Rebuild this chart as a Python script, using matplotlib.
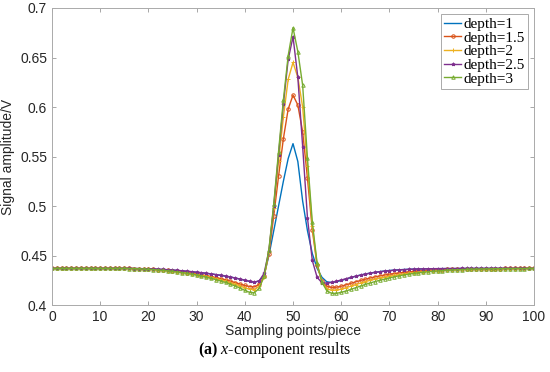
import matplotlib
matplotlib.use("Agg")
import matplotlib.pyplot as plt

plt.rcParams['mathtext.fontset'] = 'custom'
plt.rcParams['mathtext.rm'] = 'Liberation Serif'
plt.rcParams['mathtext.it'] = 'Liberation Serif:italic'
plt.rcParams['mathtext.bf'] = 'Liberation Serif:bold'

# sampling points 0..100
x = list(range(101))

depth1 = [.437, .437, .437, .437, .437, .437, .437, .437, .437, .437,
          .437, .437, .437, .437, .437, .437, .437, .4369, .4368, .4367,
          .4365, .4363, .4361, .4358, .4355, .4352, .4348, .4344, .434, .4335,
          .433, .4325, .432, .4314, .4307, .43, .4292, .4283, .4273, .4262,
          .425, .4238, .4228, .4245, .43, .45, .475, .50, .525, .548,
          .563, .545, .505, .475, .452, .437, .428, .4235, .4228, .4235,
          .4248, .4262, .4277, .4291, .4303, .4314, .4323, .4331, .4338, .4344,
          .4349, .4353, .4356, .4359, .4361, .4363, .4364, .4365, .4366, .4367,
          .4367, .4368, .4368, .4368, .4369, .4369, .4369, .4369, .437, .437,
          .437, .437, .437, .437, .437, .437, .437, .437, .437, .437, .437]

depth15 = [.437, .437, .437, .437, .437, .437, .437, .437, .437, .437,
           .437, .437, .437, .437, .437, .437, .437, .4369, .4367, .4366,
           .4363, .4361, .4357, .4353, .4349, .4345, .434, .4334, .4328, .4321,
           .4314, .4306, .4298, .4288, .4278, .4267, .4255, .4242, .4227, .4212,
           .4198, .4187, .4183, .421, .429, .452, .49, .53, .568, .598,
           .612, .602, .575, .528, .476, .44, .424, .419, .4178, .418,
           .419, .4204, .4219, .4234, .4248, .4261, .4273, .4284, .4294, .4303,
           .4311, .4318, .4324, .433, .4335, .4339, .4343, .4347, .435, .4353,
           .4355, .4357, .4359, .4361, .4362, .4363, .4364, .4365, .4366, .4367,
           .4368, .4368, .4369, .4369, .437, .437, .437, .437, .437, .437, .437]

depth2 = [.437, .437, .437, .437, .437, .437, .437, .437, .437, .437,
          .437, .437, .437, .437, .437, .437, .437, .4369, .4367, .4365,
          .4362, .4359, .4355, .4351, .4347, .4342, .4337, .433, .4323, .4316,
          .4308, .4299, .429, .4279, .4267, .4255, .4241, .4226, .421, .4192,
          .4174, .416, .4156, .419, .428, .454, .498, .545, .59, .628,
          .645, .63, .60, .54, .48, .441, .423, .4165, .415, .4152,
          .416, .4175, .4191, .4207, .4222, .4236, .4249, .4261, .4272, .4282,
          .4291, .4299, .4307, .4314, .432, .4326, .4331, .4336, .434, .4344,
          .4347, .435, .4353, .4355, .4357, .4359, .4361, .4362, .4364, .4365,
          .4366, .4367, .4367, .4368, .4368, .4369, .4369, .437, .437, .437, .437]

depth25 = [.437, .437, .437, .437, .437, .437, .437, .437, .437, .437,
           .437, .437, .437, .437, .437, .437, .437, .4369, .4368, .4367,
           .4366, .4364, .4362, .436, .4357, .4354, .435, .4346, .4342, .4337,
           .4332, .4327, .4321, .4315, .4308, .43, .4292, .4283, .4273, .4262,
           .4251, .424, .4232, .4245, .432, .455, .50, .552, .603, .648,
           .671, .630, .560, .488, .445, .428, .4225, .4222, .4228, .424,
           .4253, .4266, .4279, .4291, .4302, .4312, .4321, .4329, .4336, .4342,
           .4347, .4351, .4355, .4358, .436, .4362, .4364, .4365, .4366, .4367,
           .4368, .4368, .4369, .4369, .4369, .437, .437, .437, .437, .437,
           .437, .437, .437, .437, .437, .437, .437, .437, .437, .437, .437]

depth3 = [.437, .437, .437, .437, .437, .437, .437, .437, .437, .437,
          .437, .437, .437, .437, .437, .437, .4369, .4368, .4366, .4364,
          .4361, .4358, .4354, .435, .4345, .434, .4334, .4327, .432, .4312,
          .4303, .4293, .4282, .427, .4257, .4243, .4228, .4211, .4193, .4172,
          .4148, .4128, .4125, .417, .429, .456, .502, .555, .607, .652,
          .680, .656, .622, .548, .484, .442, .423, .4145, .4118, .4118,
          .4128, .4142, .4158, .4175, .4192, .4208, .4223, .4237, .425, .4262,
          .4274, .4285, .4295, .4304, .4312, .4319, .4325, .4331, .4336, .434,
          .4344, .4348, .4351, .4354, .4356, .4358, .436, .4362, .4363, .4364,
          .4365, .4366, .4367, .4367, .4368, .4368, .4369, .4369, .4369, .437, .437]

series = [
    ("depth=1", depth1, "#0072BD", ""),
    ("depth=1.5", depth15, "#D95319", "o"),
    ("depth=2", depth2, "#EDB120", "+"),
    ("depth=2.5", depth25, "#7E2F8E", "*"),
    ("depth=3", depth3, "#77AC30", "^"),
]

fig = plt.figure(figsize=(5.5, 3.72), dpi=100)
ax = fig.add_axes([0.0945, 0.180, 0.8765, 0.7985])

for label, y, c, m in series:
    ax.plot(x, y, color=c, marker=m, markersize=2.5, markerfacecolor="none",
            markeredgewidth=0.7, linewidth=1.0, label=label)

ax.set_xlim(0, 100)
ax.set_ylim(0.4, 0.7)
ax.set_xticks(range(0, 101, 10))
yt = [0.4, 0.45, 0.5, 0.55, 0.6, 0.65, 0.7]
ax.set_yticks(yt)
ax.set_yticklabels(["0.4", "0.45", "0.5", "0.55", "0.6", "0.65", "0.7"])
ax.tick_params(direction="in", top=True, right=True, length=3, width=0.6,
               colors="#999999", labelcolor="#262626", labelsize=10)
for tl in ax.get_xticklabels() + ax.get_yticklabels():
    tl.set_family("Liberation Sans")
for s in ax.spines.values():
    s.set_color("#aaaaaa")
    s.set_linewidth(0.7)

ax.set_xlabel("Sampling points/piece", family="Liberation Sans", fontsize=10,
              color="#262626", labelpad=0)
ax.set_ylabel("Signal amplitude/V", family="Liberation Sans", fontsize=10,
              color="#262626", labelpad=4)

leg = ax.legend(loc="upper right", prop={"family": "Liberation Serif", "size": 11},
                fancybox=False, framealpha=1, edgecolor="#aaaaaa",
                handlelength=1.1, handletextpad=0.15, labelspacing=0.0,
                borderpad=0.2, borderaxespad=0.4)
leg.get_frame().set_linewidth(0.7)

fig.text(0.5, 0.058, r"$\mathbf{(a)}$ $\mathit{x}$-component results",
         ha="center", va="center", family="Liberation Serif", fontsize=11.5)

fig.savefig("out.png", dpi=100)
